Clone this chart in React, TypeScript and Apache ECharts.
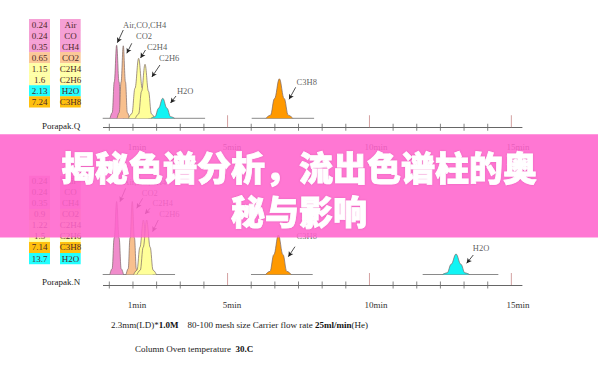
import { useEffect, useRef } from "react";
import * as echarts from "echarts";

// ---- table data ----
const topTimes = ["0.24", "0.24", "0.35", "0.65", "1.15", "1.6", "2.13", "7.24"];
const topCompounds = ["Air", "CO", "CH4", "CO2", "C2H4", "C2H6", "H2O", "C3H8"];
const botTimes = ["0.24", "0.24", "0.35", "0.9", "1.22", "1.5", "7.14", "13.7"];
const botCompounds = ["Air", "CO", "CH4", "CO2", "C2H4", "C2H6", "C3H8", "H2O"];
const columnNames = ["Porapak.Q", "Porapak.N"];

// ---- peaks (axis units: tick index, height) ----
const topPeakNames = ["Air", "CO2", "C2H4", "C2H6", "H2O", "C3H8"];
const topPeakPos = [0.31, 0.59, 1.24, 1.51, 2.26, 7.19];
const topPeakHeight = [73, 72.5, 60, 54, 20, 39.5];
const topPeakWidth = [0.28, 0.26, 0.43, 0.41, 0.5, 0.57];

const botPeakNames = ["Air", "CO2", "C2H4", "C2H6", "C3H8", "H2O"];
const botPeakPos = [0.31, 0.97, 1.44, 1.58, 7.15, 14.66];
const botPeakHeight = [73, 73, 54.5, 54.5, 39.5, 20.5];
const botPeakWidth = [0.29, 0.26, 0.41, 0.41, 0.54, 0.57];

const topBaselines = [[-0.28, 4.05], [6.02, 8.66]];
const botBaselines = [[-0.28, 2.78], [5.99, 8.6], [13.25, 16.45]];

// ---- axis ----
const minorTicks = [0, 1, 2, 3, 4, 6, 7, 8, 9, 10, 12, 13, 14, 15, 16];
const majorTicks = [5, 11, 17];
const tickLabels = ["1min", "5min", "10min", "15min"];
const tickLabelPos = [1.17, 5.19, 11.28, 17.28];

// ---- annotations ----
const topNotes = ["Air,CO,CH4", "CO2", "C2H4", "C2H6", "H2O", "C3H8"];
const topNoteAt = [[0.58, 93.3], [1.13, 82.3], [1.59, 71.3], [2.1, 60.3], [2.86, 27.6], [7.92, 36.6]];
const topArrows = [
  [[0.59, 88.3], [0.34, 75.6]],
  [[0.95, 75], [0.74, 65]],
  [[1.53, 68.3], [1.32, 60.3]],
  [[2.14, 53.3], [1.8, 41.3]],
  [[2.82, 22.3], [2.59, 15.3]],
  [[7.88, 31], [7.6, 19]],
];
const botNotes = ["Air,CO,CH4", "CO2", "C2H4", "C2H6", "C3H8", "H2O"];
const botNoteAt = [[0.59, 92.8], [1.37, 81.8], [1.83, 71.2], [2.11, 60.2], [7.92, 38.5], [15.37, 26.2]];
const botArrows = [
  [[0.69, 86.2], [0.45, 72.8]],
  [[1.41, 76.2], [1.16, 66.2]],
  [[1.72, 66.2], [1.51, 60.5]],
  [[2.07, 54.5], [1.83, 42.8]],
  [[7.85, 27.8], [7.57, 17.8]],
  [[15.39, 19.5], [15.11, 11.2]],
];

const titleLines = ["揭秘色谱分析，流出色谱柱的奥", "秘与影响"];
const footer1 = ["2.3mm(LD)*", "1.0M", "    80-100 mesh size Carrier flow rate ", "25ml/min", "(He)"];
const footer2 = ["Column Oven temperature  ", "30.C"];

// ---- style ----
const SERIF = "'Liberation Serif', 'Times New Roman', serif";
const compoundColor: Record<string, string> = {
  Air: "#F5A0D5", CO: "#F5A0D5", CH4: "#F5A0D5",
  CO2: "#FBC898", C2H4: "#FFFFA6", C2H6: "#FFFFA6",
  H2O: "#22FFFF", C3H8: "#FFC00E",
};
const peakColor: Record<string, string> = {
  Air: "#F08CCB", CO2: "#F8C08E", C2H4: "#FFFF99", C2H6: "#FFFF99",
  H2O: "#11F4F4", C3H8: "#FF9900",
};
const profile = [[-1, 0], [-0.66, 0.08], [-0.36, 0.5], [0, 1], [0.36, 0.5], [0.66, 0.08], [1, 0]];

function panelSeries(
  g: number, names: string[], pos: number[], hts: number[], wid: number[],
  baselines: number[][], notes: string[], noteAt: number[][], arrows: number[][][], axisY: number
) {
  const s: any[] = [];
  baselines.forEach((b) => {
    s.push({
      type: "line", xAxisIndex: g, yAxisIndex: g, symbol: "none", silent: true,
      data: [[b[0], 0], [b[1], 0]], lineStyle: { color: "#8a8a8a", width: 1 }, z: 1,
    });
  });
  names.forEach((n, i) => {
    s.push({
      type: "line", xAxisIndex: g, yAxisIndex: g, symbol: "none", silent: true,
      smooth: 0.4, smoothMonotone: "x",
      data: profile.map(([px, py]) => [pos[i] + px * wid[i], py * hts[i]]),
      lineStyle: { color: "#7a6666", width: 0.7 },
      areaStyle: { color: peakColor[n], opacity: 1 },
      z: 2 + i * 0.01,
    });
  });
  s.push({
    type: "scatter", xAxisIndex: g, yAxisIndex: g, silent: true,
    symbol: "rect", symbolSize: [1, 7],
    data: minorTicks.map((t) => [t, axisY]), itemStyle: { color: "#666" }, z: 3,
  });
  s.push({
    type: "scatter", xAxisIndex: g, yAxisIndex: g, silent: true,
    symbol: "rect", symbolSize: [1, 12], symbolOffset: [0, -6],
    data: majorTicks.map((t) => [t, axisY]), itemStyle: { color: "#c98a8a" }, z: 3,
  });
  s.push({
    type: "scatter", xAxisIndex: g, yAxisIndex: g, silent: true,
    symbolSize: 0,
    data: notes.map((t, i) => ({ value: noteAt[i], name: t })),
    label: {
      show: true, position: "right", distance: 0, formatter: (p: any) => p.name,
      fontFamily: SERIF, fontSize: 8.5, color: "#333",
    },
    markLine: {
      silent: true, symbol: ["none", "arrow"], symbolSize: [4, 5],
      lineStyle: { color: "#222", width: 0.8, type: "solid" },
      label: { show: false },
      data: arrows.map((a) => [{ coord: a[0] }, { coord: a[1] }]),
    },
    z: 4,
  });
  return s;
}

function tableGraphics(times: string[], comps: string[], top: number) {
  const els: any[] = [];
  const rh = 11.04;
  comps.forEach((c, i) => {
    const y = top + i * rh;
    const fill = compoundColor[c];
    els.push({ type: "rect", shape: { x: 29, y, width: 21, height: rh + 0.2 }, style: { fill }, z: 10 });
    els.push({ type: "rect", shape: { x: 60, y, width: 20.7, height: rh + 0.2 }, style: { fill }, z: 10 });
    els.push({
      type: "text", x: 39.5, y: y + rh / 2, z: 11,
      style: { text: times[i], fill: "#4d2a2a", font: `9px ${SERIF}`, align: "center", verticalAlign: "middle" },
    });
    els.push({
      type: "text", x: 70.4, y: y + rh / 2, z: 11,
      style: { text: c, fill: "#4d2a2a", font: `9px ${SERIF}`, align: "center", verticalAlign: "middle" },
    });
  });
  return els;
}

function xAxisCfg(g: number) {
  return {
    type: "value", gridIndex: g, min: -0.25, max: 17.45, position: "bottom",
    axisLine: { show: true, onZero: false, lineStyle: { color: "#666", width: 1 } },
    axisTick: { show: false },
    splitLine: { show: false },
    axisLabel: {
      show: true, customValues: tickLabelPos, margin: 15,
      formatter: (v: number) => {
        const k = tickLabelPos.findIndex((p) => Math.abs(p - v) < 1e-6);
        return k >= 0 ? tickLabels[k] : "";
      },
      fontFamily: SERIF, fontSize: 9, color: "#333",
    },
  };
}

const titleStyle = {
  fill: "#ffffff", align: "center", verticalAlign: "middle",
  fontFamily: "'Noto Sans CJK SC', sans-serif", fontSize: 34, fontWeight: 900,
  stroke: "#ffffff", lineWidth: 0.8,
  textShadowColor: "rgba(140,0,90,0.2)", textShadowBlur: 2,
};

export default function App() {
  const ref = useRef<HTMLDivElement>(null);
  useEffect(() => {
    if (!ref.current) return;
    const chart = echarts.init(ref.current, null, { renderer: "svg" });
    const option: any = {
      animation: false,
      backgroundColor: "#ffffff",
      grid: [
        { left: 103.4, right: 76, top: 18.3, bottom: 245.7 },
        { left: 103.4, right: 76, top: 174.5, bottom: 88 },
      ],
      xAxis: [xAxisCfg(0), xAxisCfg(1)],
      yAxis: [
        { type: "value", gridIndex: 0, min: -9, max: 100, show: false, splitLine: { show: false } },
        { type: "value", gridIndex: 1, min: -10.5, max: 100, show: false, splitLine: { show: false } },
      ],
      series: [
        ...panelSeries(0, topPeakNames, topPeakPos, topPeakHeight, topPeakWidth, topBaselines, topNotes, topNoteAt, topArrows, -9),
        ...panelSeries(1, botPeakNames, botPeakPos, botPeakHeight, botPeakWidth, botBaselines, botNotes, botNoteAt, botArrows, -10.5),
      ],
      graphic: [
        ...tableGraphics(topTimes, topCompounds, 19),
        ...tableGraphics(botTimes, botCompounds, 175.7),
        {
          type: "text", x: 42, y: 126, z: 11,
          style: { text: columnNames[0], fill: "#222", font: `9px ${SERIF}`, verticalAlign: "middle" },
        },
        {
          type: "text", x: 42, y: 281.7, z: 11,
          style: { text: columnNames[1], fill: "#222", font: `9px ${SERIF}`, verticalAlign: "middle" },
        },
        {
          type: "text", x: 111, y: 325, z: 11,
          style: {
            text: `{n|${footer1[0]}}{b|${footer1[1]}}{n|${footer1[2]}}{b|${footer1[3]}}{n|${footer1[4]}}`,
            verticalAlign: "middle",
            rich: {
              n: { fontFamily: SERIF, fontSize: 9, fill: "#222" },
              b: { fontFamily: SERIF, fontSize: 9, fontWeight: "bold", fill: "#111" },
            },
          },
        },
        {
          type: "text", x: 135, y: 349.3, z: 11,
          style: {
            text: `{n|${footer2[0]}}{b|${footer2[1]}}`,
            verticalAlign: "middle",
            rich: {
              n: { fontFamily: SERIF, fontSize: 9, fill: "#222" },
              b: { fontFamily: SERIF, fontSize: 9, fontWeight: "bold", fill: "#111" },
            },
          },
        },
        {
          type: "rect", z: 50, silent: true,
          shape: { x: 0, y: 134.3, width: 598, height: 103.2 },
          style: { fill: "rgba(255, 100, 205, 0.88)" },
        },
        { type: "text", x: 299, y: 166, z: 51, style: { ...titleStyle, text: titleLines[0] } },
        { type: "text", x: 299, y: 210, z: 51, style: { ...titleStyle, text: titleLines[1] } },
      ],
    };
    chart.setOption(option);
    return () => chart.dispose();
  }, []);
  return (
    <div
      ref={ref}
      style={{ position: "fixed", left: 0, top: 0, width: 598, height: 373, background: "#fff" }}
    />
  );
}
